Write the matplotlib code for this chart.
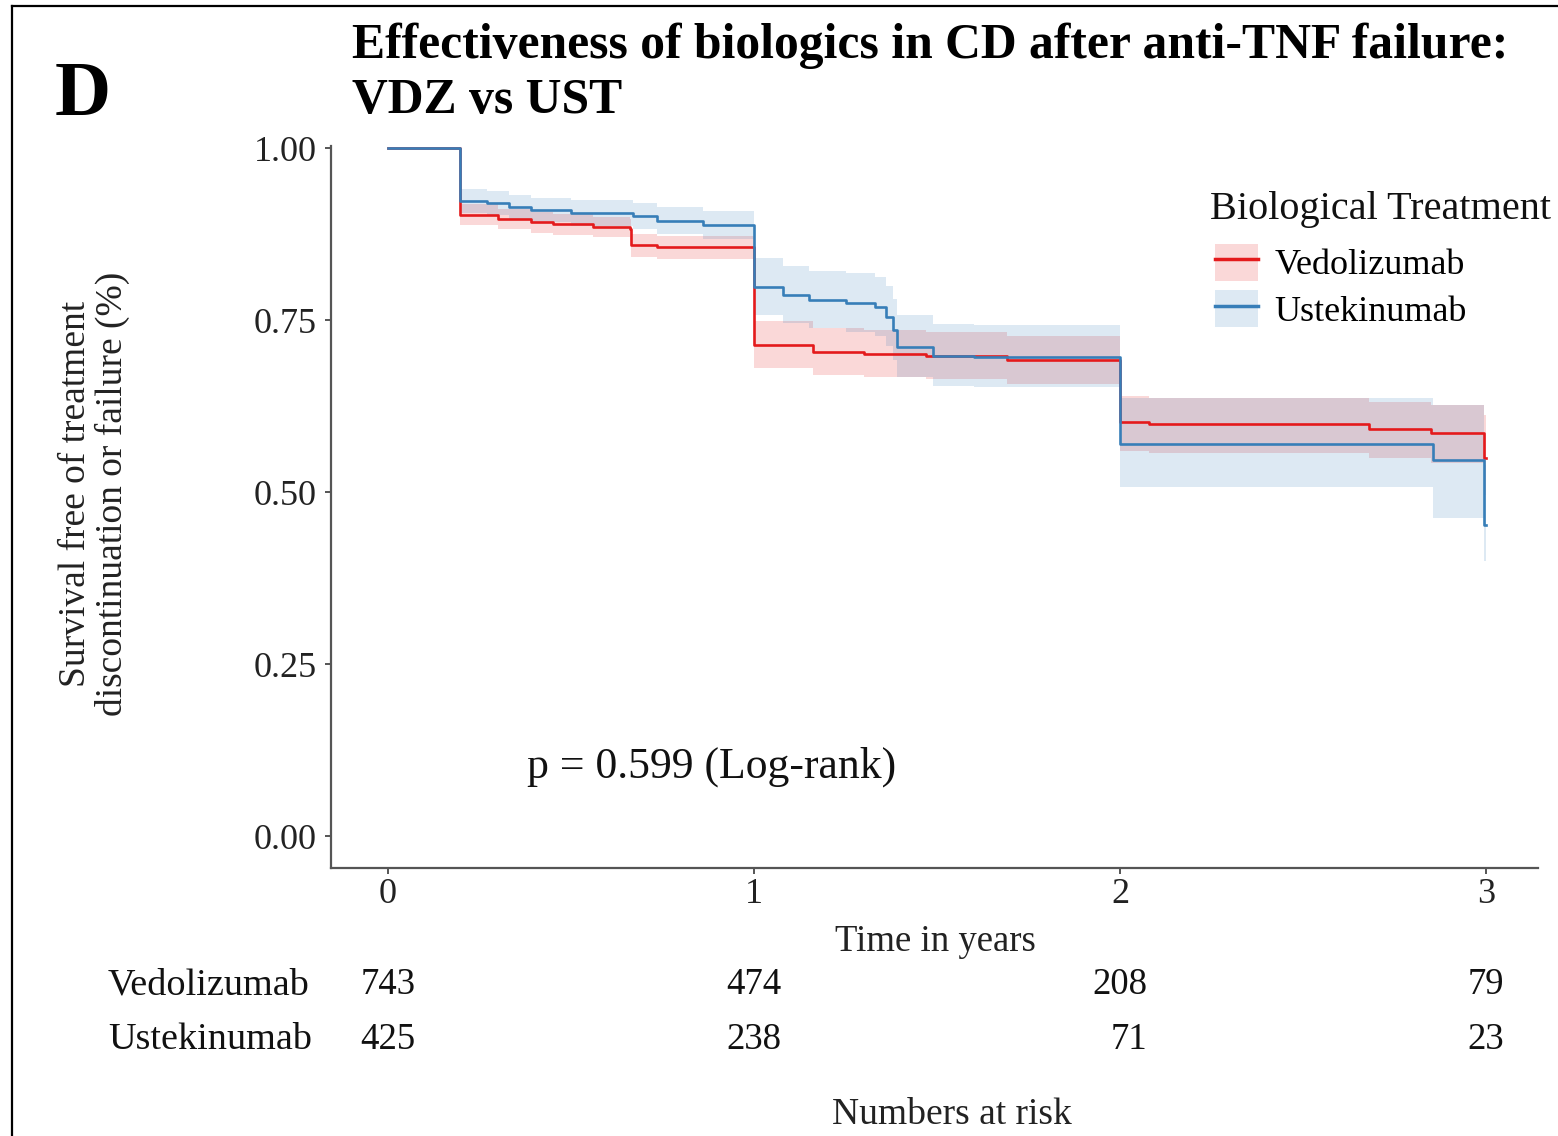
import matplotlib
matplotlib.use("Agg")
import matplotlib.pyplot as plt
from matplotlib.patches import Patch
from matplotlib.lines import Line2D
from matplotlib.legend_handler import HandlerTuple

plt.rcParams['font.family'] = ['Liberation Serif', 'DejaVu Serif']

# ---------------- data ----------------
groups = ["Vedolizumab", "Ustekinumab"]
legend_title = "Biological Treatment"

vdz_time = [0, 0.197, 0.30, 0.39, 0.45, 0.56, 0.66, 0.664, 0.735, 1.0, 1.16, 1.30, 1.47, 1.69, 2.0, 2.08, 2.68, 2.85, 2.995]
vdz_surv = [1.0, 0.903, 0.897, 0.892, 0.889, 0.885, 0.882, 0.859, 0.856, 0.714, 0.704, 0.701, 0.698, 0.692, 0.602, 0.599, 0.592, 0.586, 0.549]
vdz_low  = [1.0, 0.888, 0.882, 0.877, 0.874, 0.870, 0.867, 0.842, 0.839, 0.680, 0.670, 0.667, 0.664, 0.657, 0.560, 0.557, 0.549, 0.542, 0.495]
vdz_up   = [1.0, 0.918, 0.912, 0.907, 0.904, 0.900, 0.897, 0.875, 0.872, 0.748, 0.738, 0.735, 0.732, 0.727, 0.640, 0.637, 0.631, 0.626, 0.612]

ust_time = [0, 0.197, 0.27, 0.33, 0.39, 0.50, 0.67, 0.735, 0.86, 1.0, 1.08, 1.15, 1.25, 1.33, 1.36, 1.38, 1.39, 1.49, 1.6, 2.0, 2.855, 2.995]
ust_surv = [1.0, 0.923, 0.920, 0.914, 0.910, 0.906, 0.901, 0.894, 0.888, 0.798, 0.786, 0.779, 0.775, 0.769, 0.755, 0.735, 0.711, 0.698, 0.697, 0.570, 0.547, 0.452]
ust_low  = [1.0, 0.905, 0.902, 0.896, 0.892, 0.887, 0.882, 0.875, 0.868, 0.758, 0.745, 0.738, 0.733, 0.727, 0.712, 0.692, 0.667, 0.654, 0.652, 0.508, 0.462, 0.400]
ust_up   = [1.0, 0.940, 0.938, 0.932, 0.928, 0.925, 0.920, 0.914, 0.908, 0.840, 0.829, 0.822, 0.818, 0.812, 0.799, 0.780, 0.757, 0.744, 0.743, 0.636, 0.626, 0.540]

end_time = 3.0

risk_times = [0, 1, 2, 3]
vdz_risk = [743, 474, 208, 79]
ust_risk = [425, 238, 71, 23]

x_ticks = [0, 1, 2, 3]
y_ticks = [0.00, 0.25, 0.50, 0.75, 1.00]

red = "#E41A1C"
blue = "#377EB8"

# ---------------- figure ----------------
W, H = 1558, 1136
fig = plt.figure(figsize=(W / 100, H / 100), dpi=100)
fig.patch.set_facecolor("white")

def fx(px):
    return px / W

def fy(py):
    return 1 - py / H

ax = fig.add_axes([fx(331), fy(868), fx(1538) - fx(331), fy(146) - fy(868)])
ax.set_xlim(-0.156, 3.142)
ax.set_ylim(-0.0465, 1.003)

def draw_group(t, s, lo, hi, color):
    tt = list(t) + [end_time]
    ss = list(s) + [s[-1]]
    ll = list(lo) + [lo[-1]]
    hh = list(hi) + [hi[-1]]
    ax.fill_between(tt, ll, hh, step="post", color=color, alpha=0.17, lw=0)
    ax.step(tt, ss, where="post", color=color, lw=1.9, clip_on=False, zorder=3)

draw_group(vdz_time, vdz_surv, vdz_low, vdz_up, red)
draw_group(ust_time, ust_surv, ust_low, ust_up, blue)

for side in ["top", "right"]:
    ax.spines[side].set_visible(False)
for side in ["left", "bottom"]:
    ax.spines[side].set_color("#555555")
    ax.spines[side].set_linewidth(1.6)

ax.set_xticks(x_ticks)
ax.set_xticklabels([str(v) for v in x_ticks])
ax.set_yticks(y_ticks)
ax.set_yticklabels([f"{v:.2f}" for v in y_ticks])
ax.tick_params(axis="both", colors="#555555", labelcolor="#222222", labelsize=26,
               length=4, width=1.4)
ax.tick_params(axis="y", pad=6)
ax.tick_params(axis="x", pad=3)

ax.text(0.38, 0.10, "p = 0.599 (Log-rank)", fontsize=31.5, color="#111111",
        ha="left", va="center")

# legend (title drawn separately to control spacing)
fig.text(fx(1210), fy(210), legend_title, fontsize=29, ha="left", va="center", color="#111111")
handles = [(Patch(facecolor=red, alpha=0.17, edgecolor="none"), Line2D([], [], color=red, lw=2.5)),
           (Patch(facecolor=blue, alpha=0.17, edgecolor="none"), Line2D([], [], color=blue, lw=2.5))]
leg = fig.legend(handles, groups,
                 handler_map={tuple: HandlerTuple(ndivide=1)},
                 loc="upper left", bbox_to_anchor=(fx(1211), fy(240)),
                 frameon=False, fontsize=26,
                 handlelength=1.2, handleheight=1.2, handletextpad=0.45,
                 labelspacing=0.22, borderaxespad=0, borderpad=0.1)

# titles and labels
fig.text(fx(55), fy(115), "D", fontsize=56, fontweight="bold", ha="left", va="baseline")
fig.text(fx(352), fy(58), "Effectiveness of biologics in CD after anti-TNF failure:",
         fontsize=35.7, fontweight="bold", ha="left", va="baseline")
fig.text(fx(352), fy(113), "VDZ vs UST", fontsize=35.7, fontweight="bold", ha="left", va="baseline")

fig.text(fx(94), fy(494), "Survival free of treatment\ndiscontinuation or failure (%)",
         rotation=90, fontsize=27, ha="center", va="center", color="#222222",
         linespacing=1.05)
fig.text(fx(935), fy(942), "Time in years", fontsize=26.5, ha="center", va="center", color="#222222")

# numbers at risk table (columns padded to equal width, like the original)
def risk_row(values, ypx):
    for i, (t, v) in enumerate(zip(risk_times, values)):
        w = max(len(str(vdz_risk[i])), len(str(ust_risk[i])))
        off = w * 0.5 * 26.5 * 100 / 72 / 2
        x_disp = ax.transData.transform((t, 0))[0]
        fig.text((x_disp + off) / W, fy(ypx), str(v), fontsize=26.5, ha="right", va="center",
                 color="#111111")

risk_row(vdz_risk, 985)
risk_row(ust_risk, 1040)
fig.text(fx(108), fy(985), groups[0], fontsize=27.5, ha="left", va="center", color="#111111")
fig.text(fx(108), fy(1040), groups[1], fontsize=27.5, ha="left", va="center", color="#111111")
fig.text(fx(952), fy(1115), "Numbers at risk", fontsize=27, ha="center", va="center", color="#222222")

# frame border (left and top edges)
fig.add_artist(Line2D([fx(12), fx(12)], [fy(6), 0], transform=fig.transFigure, color="black", lw=1.6))
fig.add_artist(Line2D([fx(12), 1], [fy(6), fy(6)], transform=fig.transFigure, color="black", lw=1.6))

fig.savefig("out.png", dpi=100)
